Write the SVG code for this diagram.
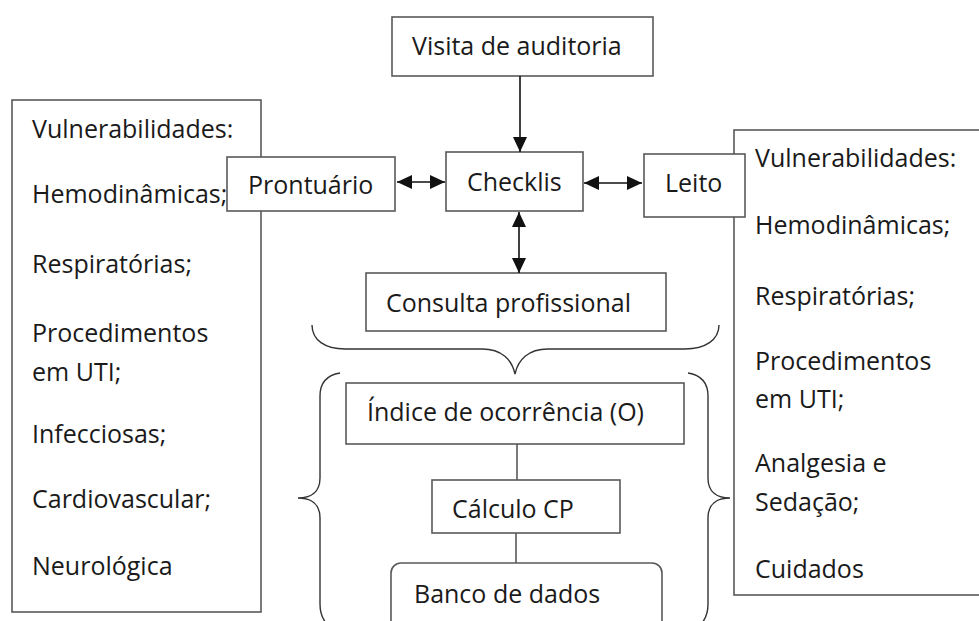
<svg xmlns="http://www.w3.org/2000/svg" width="979" height="621" viewBox="0 0 979 621">
<style>
.box{fill:#fff;stroke:#595959;stroke-width:1.6}
.t{font-family:"Open Sans","Noto Sans",sans-serif;font-size:25px;fill:#1a1a1a}
.ln{fill:none;stroke:#111;stroke-width:1.6}
.gl{fill:none;stroke:#595959;stroke-width:1.6}
.br{fill:none;stroke:#333;stroke-width:1.4}
</style>
<defs>
<marker id="ah" markerWidth="16" markerHeight="14" refX="15" refY="7" orient="auto-start-reverse" markerUnits="userSpaceOnUse">
<path d="M0,0 L15,7 L0,14 Z" fill="#111"/>
</marker>
</defs>
<rect width="979" height="621" fill="#fff"/>
<g id="left-panel">
<rect class="box" x="12" y="100" width="249" height="512"/>
<text class="t" x="32" y="138">Vulnerabilidades:</text>
<text class="t" x="32" y="203">Hemodinâmicas;</text>
<text class="t" x="32" y="273">Respiratórias;</text>
<text class="t" x="32" y="342">Procedimentos</text>
<text class="t" x="32" y="381">em UTI;</text>
<text class="t" x="32" y="443">Infecciosas;</text>
<text class="t" x="32" y="508">Cardiovascular;</text>
<text class="t" x="32" y="575">Neurológica</text>
</g>
<g id="right-panel">
<rect class="box" x="734" y="130" width="260" height="465"/>
<text class="t" x="755" y="167">Vulnerabilidades:</text>
<text class="t" x="755" y="234">Hemodinâmicas;</text>
<text class="t" x="755" y="305">Respiratórias;</text>
<text class="t" x="755" y="370">Procedimentos</text>
<text class="t" x="755" y="408">em UTI;</text>
<text class="t" x="755" y="472">Analgesia e</text>
<text class="t" x="755" y="511">Sedação;</text>
<text class="t" x="755" y="578">Cuidados</text>
</g>
<g id="visita">
<rect class="box" x="392" y="17" width="261" height="59"/>
<text class="t" x="412" y="55">Visita de auditoria</text>
</g>
<g id="prontuario">
<rect class="box" x="227" y="157" width="168" height="54"/>
<text class="t" x="248" y="194">Prontuário</text>
</g>
<g id="checklis">
<rect class="box" x="446" y="152" width="137" height="59"/>
<text class="t" x="467" y="191">Checklis</text>
</g>
<g id="leito">
<rect class="box" x="644" y="154" width="101" height="63"/>
<text class="t" x="665" y="192">Leito</text>
</g>
<g id="consulta">
<rect class="box" x="366" y="273" width="300" height="58"/>
<text class="t" x="386" y="312">Consulta profissional</text>
</g>
<g id="indice">
<rect class="box" x="346" y="383" width="338" height="61"/>
<text class="t" x="367" y="421">Índice de ocorrência (O)</text>
</g>
<g id="calculo">
<rect class="box" x="432" y="480" width="188" height="53"/>
<text class="t" x="452" y="518">Cálculo CP</text>
</g>
<g id="banco">
<rect class="box" x="391" y="563" width="271" height="80" rx="10"/>
<text class="t" x="414" y="603">Banco de dados</text>
</g>
<g id="connectors">
<line class="ln" x1="520" y1="76" x2="520" y2="152" marker-end="url(#ah)"/>
<line class="ln" x1="397" y1="182" x2="445" y2="182" marker-start="url(#ah)" marker-end="url(#ah)"/>
<line class="ln" x1="584" y1="183" x2="642" y2="183" marker-start="url(#ah)" marker-end="url(#ah)"/>
<line class="ln" x1="519" y1="212" x2="519" y2="273" marker-start="url(#ah)" marker-end="url(#ah)"/>
<line class="gl" x1="517" y1="444" x2="517" y2="480"/>
<line class="gl" x1="516" y1="533" x2="516" y2="563"/>
<path class="br" d="M312,325 C312,340 325,349 345,349 L482,349 C502,349 512,360 515,374 C518,360 528,349 548,349 L685,349 C705,349 719,340 719,325"/>
<path class="br" d="M340,373 C328,375 320,382 320,396 L320,478 C320,492 311,498 298,498 C311,498 320,504 320,518 L320,604 C320,612 322,618 326,623"/>
<path class="br" d="M688,373 C700,375 708,382 708,396 L708,478 C708,492 717,498 730,498 C717,498 708,504 708,518 L708,604 C708,612 706,618 702,623"/>
</g>
</svg>
